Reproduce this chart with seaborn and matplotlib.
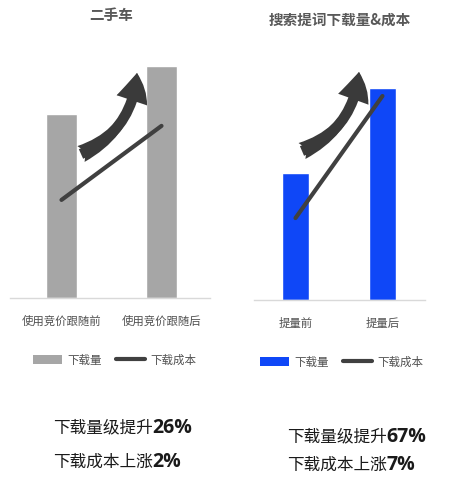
import matplotlib
matplotlib.use('Agg')
import matplotlib.pyplot as plt
import seaborn as sns
import numpy as np
import pandas as pd
from matplotlib.patches import FancyArrowPatch, Patch
from matplotlib.lines import Line2D

# ---------------- data ----------------
left_title = "二手车"
left_cats = ["使用竞价跟随前", "使用竞价跟随后"]
left_downloads = [100, 126]
left_cost = [1.00, 1.02]

right_title = "搜索提词下载量&成本"
right_cats = ["提量前", "提量后"]
right_downloads = [100, 167]
right_cost = [1.00, 1.07]

legend_labels = ["下载量", "下载成本"]
left_notes = [("下载量级提升", "26%"), ("下载成本上涨", "2%")]
right_notes = [("下载量级提升", "67%"), ("下载成本上涨", "7%")]

# ---------------- style ----------------
sns.set_theme(style='white')
plt.rcParams['font.family'] = ['Noto Sans CJK SC', 'DejaVu Sans']

W, H = 454, 478
fig = plt.figure(figsize=(W / 100, H / 100), dpi=100)
fig.patch.set_facecolor('white')

GRAY_BAR = '#a6a6a6'
BLUE_BAR = '#0f47f7'
LINE_C = '#404040'
ARROW_C = '#3a3a3a'
TXT_C = '#505050'


def fx(x):
    return x / W


def fy(y):
    return 1 - y / H


def px_axes(x0, y0, x1, y1):
    return fig.add_axes([x0 / W, 1 - y1 / H, (x1 - x0) / W, (y1 - y0) / H])


def panel(ax, cats, downloads, cost, color, ytop, cost_lim, xlim):
    df = pd.DataFrame({'cat': cats, 'dl': downloads})
    sns.barplot(data=df, x='cat', y='dl', color=color, width=0.31,
                saturation=1, ax=ax)
    ax.set_xlim(*xlim)
    ax.set_ylim(0, ytop)
    ax.set_xlabel('')
    ax.set_ylabel('')
    ax.set_yticks([])
    ax.tick_params(axis='x', length=0, pad=13, labelsize=8.2, labelcolor=TXT_C)
    for s in ['top', 'left', 'right']:
        ax.spines[s].set_visible(False)
    ax.spines['bottom'].set_color('#d9d9d9')
    ax.spines['bottom'].set_linewidth(1.0)
    ax.set_facecolor('none')
    ax2 = ax.twinx()
    sns.lineplot(x=np.arange(len(cost)), y=cost, color=LINE_C, lw=3,
                 solid_capstyle='round', ax=ax2)
    ax2.set_ylim(*cost_lim)
    ax2.axis('off')


axL = px_axes(10, 50, 210, 298)
panel(axL, left_cats, left_downloads, left_cost, GRAY_BAR,
      134.8, (0.9735, 1.0405), (-0.515, 1.485))

axR = px_axes(254, 50, 425, 300)
panel(axR, right_cats, right_downloads, right_cost, BLUE_BAR,
      196.9, (0.953, 1.0964), (-0.477, 1.489))

# titles
fig.text(fx(111), fy(15), left_title, ha='center', va='center',
         fontsize=10.5, fontweight='bold', color='#595959')
fig.text(fx(340), fy(20), right_title, ha='center', va='center',
         fontsize=10.5, fontweight='bold', color='#595959')

# curved arrows (blunt tail + widening body)
for (ax0, ay0), (ax1, ay1) in [((81, 154), (137, 73)), ((302, 151), (359, 72))]:
    for style in ['simple,head_length=2.0,head_width=2.3,tail_width=0.75',
                  'fancy,head_length=2.0,head_width=2.3,tail_width=1.25']:
        arr = FancyArrowPatch((fx(ax0), fy(ay0)), (fx(ax1), fy(ay1)),
                              transform=fig.transFigure,
                              connectionstyle='arc3,rad=0.3',
                              arrowstyle=style,
                              mutation_scale=10, color=ARROW_C, lw=0,
                              shrinkA=0, shrinkB=0, zorder=5)
        fig.add_artist(arr)

# legends
for x0, y0, col in [(33, 360, GRAY_BAR), (260, 362, BLUE_BAR)]:
    handles = [Patch(facecolor=col, edgecolor='none'),
               Line2D([0], [0], color=LINE_C, lw=3)]
    leg = fig.legend(handles, legend_labels, loc='center left',
                     bbox_to_anchor=(fx(x0), fy(y0)), ncol=2, frameon=False,
                     fontsize=8.3, handlelength=2.5, handletextpad=0.5,
                     columnspacing=1.2, borderpad=0, borderaxespad=0)
    for t in leg.get_texts():
        t.set_color(TXT_C)

# bottom notes
ax_o = fig.add_axes([0, 0, 1, 1])
ax_o.axis('off')
note_pos = [(53, 428, left_notes[0]), (53, 462, left_notes[1]),
            (287, 437, right_notes[0]), (287, 465, right_notes[1])]
for x, y, (pre, num) in note_pos:
    t = ax_o.text(fx(x), fy(y), pre, transform=ax_o.transAxes, fontsize=12,
                  color='#1a1a1a', ha='left', va='center')
    ax_o.annotate(num, xy=(1, 0.5), xycoords=t, ha='left', va='center',
                  fontsize=14, fontweight='bold', color='#1a1a1a',
                  family=['Open Sans', 'DejaVu Sans'])

fig.savefig('out.png', dpi=100, facecolor='white')
